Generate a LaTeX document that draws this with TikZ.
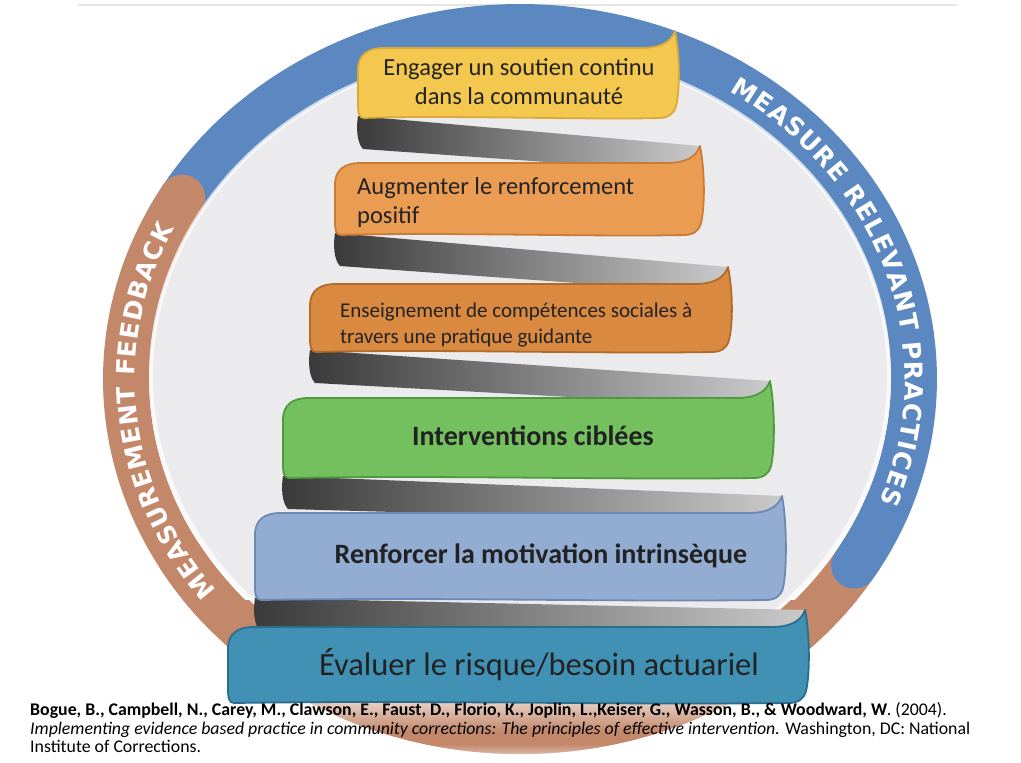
\documentclass[tikz,border=0pt]{standalone}
\usepackage{fontspec}
\setmainfont{Carlito}
\newfontfamily\ringfont{DejaVu Sans}
\usetikzlibrary{decorations.text,fadings}
\definecolor{ringblue}{HTML}{5B88C0}
\definecolor{ringbrown}{HTML}{C3876A}
\definecolor{innergray}{HTML}{EBEBED}
\definecolor{twdark}{HTML}{3A3A3A}
\definecolor{twlight}{HTML}{CACACA}
\definecolor{yelF}{HTML}{F4C84F}\definecolor{yelE}{HTML}{D9A93A}
\definecolor{or1F}{HTML}{EA9C52}\definecolor{or1E}{HTML}{C97C36}
\definecolor{or2F}{HTML}{DA8A40}\definecolor{or2E}{HTML}{B06A2A}
\definecolor{grnF}{HTML}{74BF5E}\definecolor{grnE}{HTML}{4F9A3E}
\definecolor{lbF}{HTML}{92ACD2}\definecolor{lbE}{HTML}{6C88B4}
\definecolor{tealF}{HTML}{4191B4}\definecolor{tealE}{HTML}{2B6D8E}
\definecolor{txt}{HTML}{222222}
\tikzfading[name=fadedown, top color=transparent!35, bottom color=transparent!100]
\tikzfading[name=fadeup, top color=transparent!100, bottom color=transparent!20]
\newcommand\ribbonbanner[6]{%
 \filldraw[fill=#5, draw=#6, line width=1.8pt, line join=round]
 (#1,{#3+22}) .. controls (#1,{#3+7}) and ({#1+9},#3) .. ({#1+26},#3)
 -- ({#2-34},#3)
 .. controls ({#2-14},#3) and ({#2-4},{#3-6}) .. (#2,{#3-17})
 .. controls ({#2+5},{#3+8}) and ({#2+5},{#4-28}) .. ({#2+1},{#4-12})
 .. controls ({#2-1},{#4-4}) and ({#2-7},#4) .. ({#2-16},#4)
 .. controls ({0.5*(#1+#2)+80},{#4+2}) and ({0.5*(#1+#2)-80},{#4-3}) .. ({#1+6},#4)
 .. controls ({#1+1},#4) and (#1,{#4-5}) .. (#1,{#4-14})
 -- cycle;}
\newcommand\ribbontwist[4]{%
 \shade[left color=twdark, right color=twlight]
 (#1,{#2-2}) -- (#3,{#4-17}) -- ({#3+1},{#4+10}) -- ({#1+5},{#2+31})
 .. controls ({#1-1},{#2+25}) and ({#1-2},{#2+10}) .. (#1,{#2-2}) -- cycle;}
\tikzset{
 ringband/.style={line width=46pt, line join=round},
 bannertext/.style={text=txt, inner sep=0pt},
 citetext/.style={anchor=base west, inner sep=0pt, font=\fontsize{17.8}{19}\selectfont, text=black},
 ringtext/.style={decorate, decoration={text along path, text color=white, text align={fit to path},
   text={|\ringfont\bfseries\fontsize{25}{25}\selectfont|#1}}}
}
\begin{document}
\begin{tikzpicture}[x=1pt,y=-1pt]
\useasboundingbox (0,0) rectangle (1021,763);
\fill[white] (0,0) rectangle (1021,763);
\draw[black!10, line width=2pt] (78,5) -- (957,5);
% bottom bowl
\begin{scope}
\clip (0,600) rectangle (1021,763);
\fill[ringbrown] (520,379) ellipse [x radius=417pt, y radius=375pt];
\end{scope}
\fill[innergray] (520,375) ellipse [x radius=371pt, y radius=328pt];
% ring
\draw[ringbrown, ringband] plot[domain=20:150, samples=90] ({520+394*cos(\x)},{379+352*sin(\x)});
\draw[ringblue, ringband, line cap=round] plot[domain=207:392, samples=140] ({520+394*cos(\x)},{379+352*sin(\x)});
\draw[ringbrown, ringband, line cap=round] plot[domain=140:211, samples=60] ({520+394*cos(\x)},{379+352*sin(\x)});
\draw[white, opacity=0.7, line width=4pt] (520,376) ellipse [x radius=369pt, y radius=326pt];
% ring labels
\path[ringtext={MEASUREMENT FEEDBACK}] plot[domain=142:206, samples=80] ({520+385*cos(\x)},{379+343*sin(\x)});
\path[ringtext={MEASURE RELEVANT PRACTICES}] plot[domain=303:381, samples=100] ({520+385*cos(\x)},{379+343*sin(\x)});
% bottom fades
\fill[white, path fading=fadedown] (180,700) rectangle (870,732);
\fill[white, path fading=fadeup] (180,744) rectangle (870,763);
% twists
\ribbontwist{358}{118}{700}{163}
\ribbontwist{335}{235}{728}{284}
\ribbontwist{310}{352}{770}{398}
\ribbontwist{283}{478}{782}{513}
\ribbontwist{255}{600}{805}{627}
% banners
\ribbonbanner{358}{675}{48}{118}{yelF}{yelE}
\ribbonbanner{335}{700}{163}{235}{or1F}{or1E}
\ribbonbanner{310}{728}{284}{352}{or2F}{or2E}
\ribbonbanner{283}{770}{398}{478}{grnF}{grnE}
\ribbonbanner{255}{782}{513}{600}{lbF}{lbE}
\ribbonbanner{228}{805}{627}{703}{tealF}{tealE}
% banner texts
\node[bannertext, align=center, font=\fontsize{24.5}{29}\selectfont] (t1) at (519,82) {Engager un soutien continu\\dans la communauté};
\node[bannertext, align=left, anchor=west, font=\fontsize{24.5}{29}\selectfont] (t2) at (357,202) {Augmenter le renforcement\\positif};
\node[bannertext, align=left, anchor=west, font=\fontsize{21}{26}\selectfont] (t3) at (340,325) {Enseignement de compétences sociales à\\travers une pratique guidante};
\node[bannertext, font=\bfseries\fontsize{28}{30}\selectfont] (t4) at (533,436) {Interventions ciblées};
\node[bannertext, font=\bfseries\fontsize{28}{30}\selectfont] (t5) at (541,556) {Renforcer la motivation intrinsèque};
\node[bannertext, font=\fontsize{32.5}{34}\selectfont] (t6) at (539,665) {Évaluer le risque/besoin actuariel};
% citation
\node[citetext] (c1) at (30,715) {\textbf{Bogue, B., Campbell, N., Carey, M., Clawson, E., Faust, D., Florio, K., Joplin, L.,Keiser, G., Wasson, B., \& Woodward, W}. (2004).};
\node[citetext] (c2) at (30,734) {\textit{Implementing evidence based practice in community corrections: The principles of effective intervention.} Washington, DC: National};
\node[citetext] (c3) at (30,752) {Institute of Corrections.};
\end{tikzpicture}
\end{document}
